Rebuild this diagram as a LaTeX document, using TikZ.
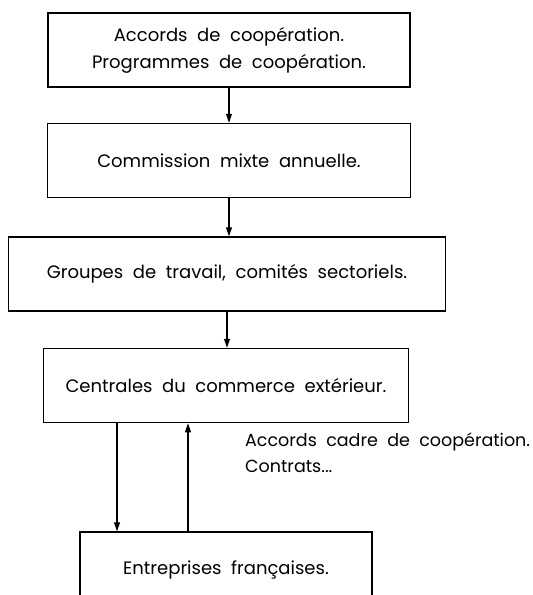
\documentclass[tikz,border=0pt]{standalone}
\usepackage{fontspec}
\setmainfont{Poppins}[WordSpace=2]
\usetikzlibrary{arrows.meta,positioning}

\begin{document}
\begin{tikzpicture}[
  node distance=36pt,
  orgbox/.style={rectangle, draw=black, line width=1.5pt, minimum height=74pt,
    align=center, inner sep=0pt, font=\fontsize{18}{27}\selectfont},
  arr/.style={-{Triangle[length=9pt,width=6pt]}, black, line width=1.1pt}]
\useasboundingbox (0pt,0pt) rectangle (533pt,-595pt);
\node[orgbox, minimum width=362pt] (s1) at (229pt,-50pt) {Accords de coopération.\\Programmes de coopération.};
\node[orgbox, minimum width=363pt, below=35pt of s1] (s2) {Commission mixte annuelle.};
\node[orgbox, minimum width=437pt, below=38pt of s2, xshift=-2pt] (s3) {Groupes de travail, comités sectoriels.};
\node[orgbox, minimum width=365pt, below=36pt of s3, xshift=-1pt] (s4) {Centrales du commerce extérieur.};
\node[orgbox, minimum width=292pt, minimum height=76pt, below=108pt of s4] (s5) {Entreprises françaises.};
\node[anchor=west, align=left, font=\fontsize{17.5}{26}\selectfont, inner sep=0pt] (lbl) at (245pt,-453pt) {Accords cadre de coopération.\\Contrats...};
\foreach \a/\b in {s1/s2,s2/s3,s3/s4}
  \draw[arr] (\a.south) -- (\a.south |- \b.north);
\draw[arr] ([xshift=-109pt]s4.south) -- ([xshift=-109pt]s4.south |- s5.north);
\draw[arr] ([xshift=-38pt]s4.south |- s5.north) -- ([xshift=-38pt]s4.south);
\end{tikzpicture}
\end{document}
